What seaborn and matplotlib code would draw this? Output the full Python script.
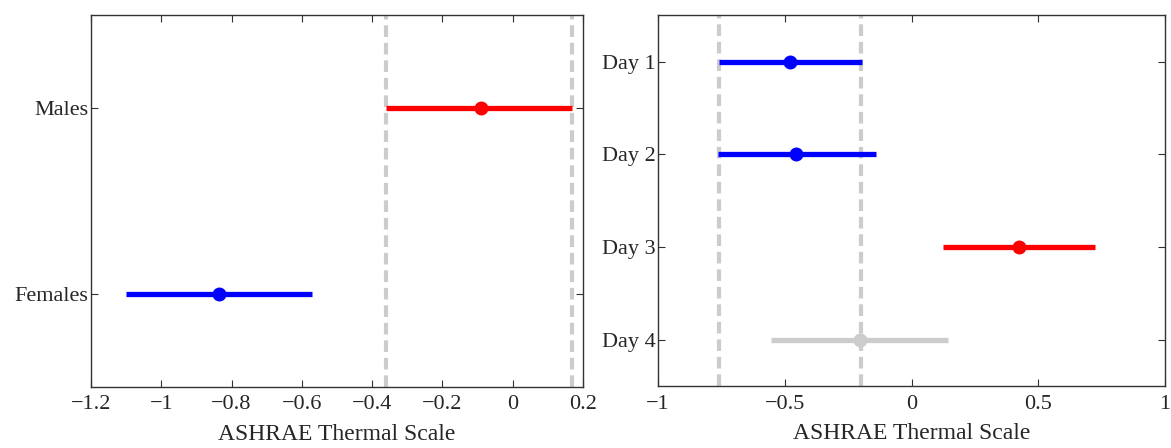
import pandas as pd
import seaborn as sns
import matplotlib.pyplot as plt

# left panel: sex groups (low, mean, high)
sex_groups = ["Males", "Females"]
sex_low = [-0.36, -1.10]
sex_mean = [-0.09, -0.835]
sex_high = [0.17, -0.57]
sex_colors = ["red", "blue"]
sex_ref = [-0.36, 0.17]

# right panel: days (low, mean, high)
days = ["Day 1", "Day 2", "Day 3", "Day 4"]
day_low = [-0.76, -0.765, 0.125, -0.555]
day_mean = [-0.48, -0.455, 0.425, -0.205]
day_high = [-0.195, -0.14, 0.725, 0.145]
day_colors = ["blue", "blue", "red", "#cccccc"]
day_ref = [-0.76, -0.20]

sns.set_style("white")
plt.rcParams["font.family"] = ["Liberation Serif", "DejaVu Serif"]


def to_long(groups, low, mean, high):
    # three rows per group; median = mean, min/max = interval ends
    rows = []
    for g, lo, m, hi in zip(groups, low, mean, high):
        for v in (lo, m, hi):
            rows.append({"group": g, "value": v})
    return pd.DataFrame(rows)


def draw(ax, groups, low, mean, high, colors, ref, xlim, xticks):
    for xv in ref:
        ax.axvline(xv, color="#cccccc", lw=3.0, ls=(0, (2.8, 1.4)), zorder=1)
    df = to_long(groups, low, mean, high)
    sns.pointplot(data=df, x="value", y="group", hue="group", order=groups,
                  hue_order=groups, palette=dict(zip(groups, colors)),
                  estimator="median", errorbar=("pi", 100), linestyle="none",
                  markers="o", markersize=8,
                  err_kws={"linewidth": 3.8, "solid_capstyle": "butt"},
                  legend=False, ax=ax, zorder=3)
    ax.set_xlim(*xlim)
    ax.set_ylim(len(groups) - 0.5, -0.5)
    ax.set_xticks(xticks)
    ax.set_xticklabels([("%g" % t).replace("-", "\u2212") for t in xticks])
    ax.set_xlabel("ASHRAE Thermal Scale", fontsize=17, labelpad=7)
    ax.set_ylabel("")
    ax.tick_params(direction="in", length=5, width=0.8, top=True, right=True,
                   bottom=True, left=True, labelsize=16, color="#333333")
    ax.tick_params(axis="y", pad=2)
    ax.tick_params(axis="x", pad=6)
    for s in ax.spines.values():
        s.set_color("#333333")
        s.set_linewidth(1.0)


fig = plt.figure(figsize=(11.71, 4.48), dpi=100)
ax1 = fig.add_axes([0.0777, 0.136, 0.420, 0.830])
ax2 = fig.add_axes([0.562, 0.138, 0.433, 0.828])

draw(ax1, sex_groups, sex_low, sex_mean, sex_high, sex_colors, sex_ref,
     (-1.2, 0.2), [-1.2, -1.0, -0.8, -0.6, -0.4, -0.2, 0.0, 0.2])
draw(ax2, days, day_low, day_mean, day_high, day_colors, day_ref,
     (-1, 1), [-1, -0.5, 0, 0.5, 1])

fig.savefig("out.png", dpi=100)
